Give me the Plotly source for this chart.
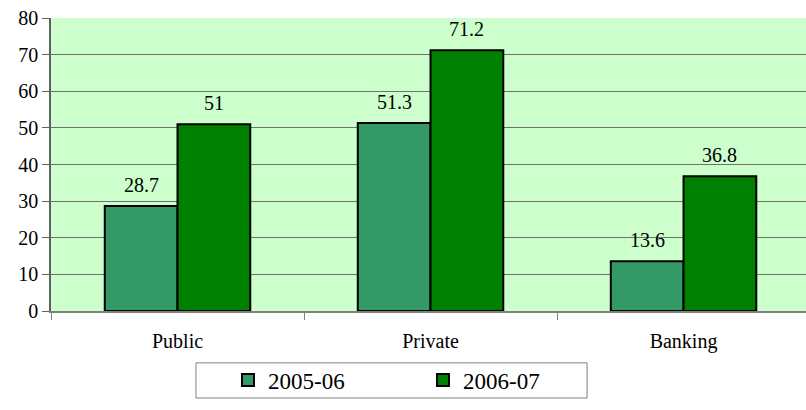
import plotly.graph_objects as go

categories = ["Public", "Private", "Banking"]
series_names = ["2005-06", "2006-07"]
values_2005 = [28.7, 51.3, 13.6]
values_2006 = [51, 71.2, 36.8]
label_2005 = ["28.7", "51.3", "13.6"]
label_2006 = ["51", "71.2", "36.8"]
y_ticks = [0, 10, 20, 30, 40, 50, 60, 70, 80]

colors = ["#339966", "#008000"]
FONT = "Liberation Serif, Times New Roman, serif"
FS = 20

fig = go.Figure()
for name, vals, col in zip(series_names, [values_2005, values_2006], colors):
    fig.add_trace(go.Bar(
        x=categories, y=vals, name=name,
        marker=dict(color=col, line=dict(color="#000000", width=2)),
    ))

annotations = []
for vals, labels, shift in [(values_2005, label_2005, -36), (values_2006, label_2006, 36)]:
    for c, v, t in zip(categories, vals, labels):
        annotations.append(dict(
            x=c, y=v, xref="x", yref="y", text=t, showarrow=False,
            xshift=shift, yshift=8, yanchor="bottom",
            font=dict(family=FONT, size=FS, color="#000000"),
        ))

fig.update_layout(
    width=806, height=410,
    margin=dict(l=51, r=0, t=18, b=99),
    paper_bgcolor="#ffffff",
    plot_bgcolor="#CCFFCC",
    barmode="group",
    bargap=0.425,
    bargroupgap=0,
    font=dict(family=FONT, size=FS, color="#000000"),
    showlegend=True,
    legend=dict(
        orientation="h", x=0.2344, xanchor="left", y=-0.2355, yanchor="middle",
        borderwidth=0, bgcolor="rgba(0,0,0,0)",
        entrywidth=150, entrywidthmode="pixels",
        font=dict(family=FONT, size=23),
        traceorder="normal",
    ),
    shapes=[dict(
        type="rect", xref="paper", yref="paper",
        x0=0.192, x1=0.710, y0=-0.297, y1=-0.177,
        line=dict(color="#808080", width=1), fillcolor="rgba(0,0,0,0)",
    )],
    annotations=annotations,
)
fig.update_xaxes(
    range=[-0.5, 2.484],
    showline=True, linecolor="#808080", linewidth=1.5,
    ticks="outside", tickson="boundaries", ticklen=7, tickcolor="#808080",
    ticklabelstandoff=11,
    tickfont=dict(family=FONT, size=FS),
    showgrid=False,
)
fig.update_yaxes(
    range=[0, 80], tickvals=y_ticks,
    showline=True, linecolor="#606060", linewidth=1.5,
    ticks="outside", ticklen=7, tickcolor="#606060",
    gridcolor="#707070", gridwidth=1,
    tickfont=dict(family=FONT, size=FS),
    zeroline=False,
)

fig.write_html("out.html")
